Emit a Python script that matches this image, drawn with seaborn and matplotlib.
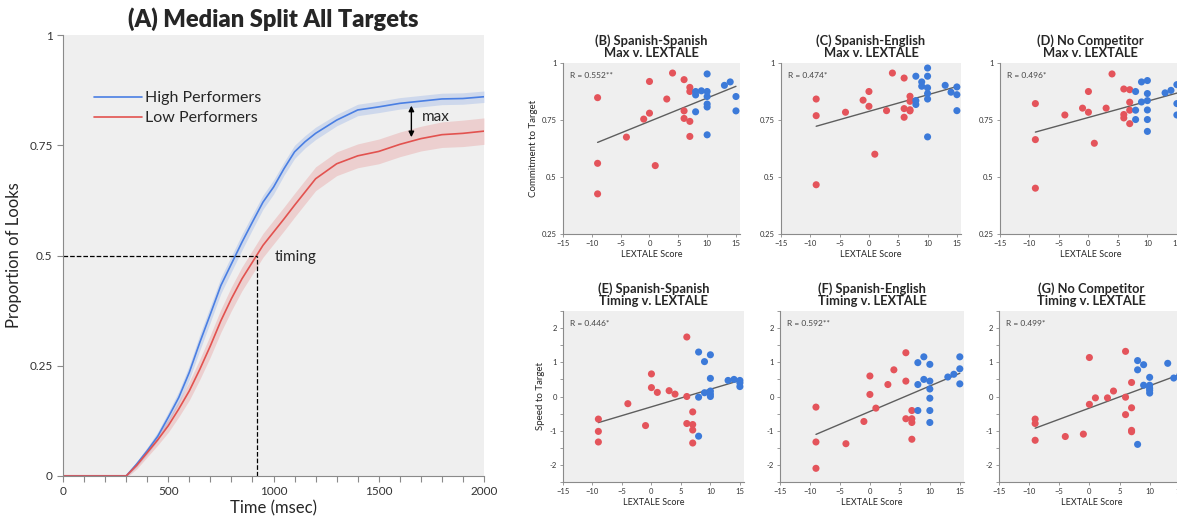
import numpy as np
import pandas as pd
import matplotlib
matplotlib.use("Agg")
import matplotlib.pyplot as plt
from matplotlib.ticker import MultipleLocator
import seaborn as sns

# ---- panel A: time course ----
time_ms = [0, 100, 200, 300, 350, 400, 450, 500, 550, 600, 650, 700, 750, 800, 850, 900,
           950, 1000, 1050, 1100, 1150, 1200, 1300, 1400, 1500, 1600, 1700, 1800, 1900, 2000]
high_prop = [0, 0, 0, 0, 0.027, 0.057, 0.09, 0.133, 0.178, 0.235, 0.303, 0.367, 0.432, 0.481, 0.53, 0.576,
             0.621, 0.655, 0.697, 0.735, 0.758, 0.777, 0.807, 0.83, 0.837, 0.845, 0.85, 0.855, 0.856, 0.86]
low_prop = [0, 0, 0, 0, 0.024, 0.053, 0.082, 0.114, 0.152, 0.193, 0.242, 0.295, 0.352, 0.402, 0.447, 0.485,
            0.523, 0.553, 0.583, 0.614, 0.644, 0.674, 0.708, 0.726, 0.736, 0.752, 0.765, 0.774, 0.777, 0.782]
high_se = [0.003, 0.003, 0.003, 0.003, 0.006, 0.008, 0.01, 0.012, 0.014, 0.016, 0.018, 0.018, 0.018, 0.018, 0.018, 0.017,
           0.016, 0.016, 0.015, 0.015, 0.014, 0.014, 0.013, 0.013, 0.013, 0.013, 0.013, 0.013, 0.013, 0.013]
low_se = [0.004, 0.004, 0.004, 0.004, 0.008, 0.01, 0.012, 0.015, 0.018, 0.021, 0.023, 0.025, 0.026, 0.027, 0.027, 0.027,
          0.027, 0.027, 0.027, 0.027, 0.027, 0.027, 0.027, 0.027, 0.028, 0.028, 0.028, 0.029, 0.03, 0.03]

# ---- scatter panels: LEXTALE score vs. outcome, low (red) / high (blue) performers ----
b_low_x = [-9, -9, -9, -4, -1, 0, 0, 1, 3, 4, 6, 6, 6, 7, 7, 7, 7]
b_low_y = [0.848, 0.56, 0.426, 0.675, 0.754, 0.78, 0.919, 0.55, 0.842, 0.956, 0.927, 0.79, 0.757, 0.893, 0.875, 0.744, 0.678]
b_high_x = [8, 8, 8, 9, 10, 10, 10, 10, 10, 10, 13, 14, 15, 15]
b_high_y = [0.875, 0.86, 0.786, 0.878, 0.952, 0.875, 0.853, 0.82, 0.807, 0.685, 0.902, 0.917, 0.853, 0.79]

c_low_x = [-9, -9, -9, -4, -1, 0, 0, 1, 3, 4, 6, 6, 6, 7, 7, 7, 7]
c_low_y = [0.842, 0.769, 0.466, 0.784, 0.837, 0.875, 0.81, 0.60, 0.791, 0.956, 0.934, 0.80, 0.762, 0.854, 0.832, 0.795, 0.79]
c_high_x = [8, 8, 8, 9, 9, 10, 10, 10, 10, 10, 10, 13, 14, 15, 15, 15]
c_high_y = [0.942, 0.835, 0.818, 0.917, 0.898, 0.978, 0.942, 0.891, 0.866, 0.842, 0.676, 0.902, 0.872, 0.895, 0.861, 0.791]

d_low_x = [-9, -9, -9, -4, -1, 0, 0, 1, 3, 4, 6, 6, 6, 7, 7, 7, 7]
d_low_y = [0.822, 0.664, 0.451, 0.772, 0.802, 0.875, 0.784, 0.648, 0.802, 0.952, 0.886, 0.774, 0.759, 0.883, 0.828, 0.793, 0.734]
d_high_x = [8, 8, 8, 9, 9, 10, 10, 10, 10, 10, 10, 13, 14, 15, 15, 15]
d_high_y = [0.875, 0.793, 0.752, 0.917, 0.829, 0.923, 0.866, 0.835, 0.794, 0.752, 0.70, 0.869, 0.88, 0.905, 0.822, 0.772]

e_low_x = [-9, -9, -9, -4, -1, 0, 0, 1, 3, 4, 6, 6, 6, 7, 7, 7, 7]
e_low_y = [-0.66, -1.02, -1.33, -0.21, -0.85, 0.66, 0.26, 0.12, 0.17, 0.07, 1.74, 0.0, -0.79, -0.45, -0.82, -0.98, -1.36]
e_high_x = [8, 8, 8, 9, 9, 10, 10, 10, 10, 10, 13, 14, 15, 15, 15]
e_high_y = [1.30, -0.02, -1.16, 1.02, 0.11, 1.22, 0.53, 0.16, 0.07, 0.0, 0.47, 0.50, 0.47, 0.40, 0.29]

f_low_x = [-9, -9, -9, -4, -1, 0, 0, 1, 3, 4, 6, 6, 6, 7, 7, 7, 7]
f_low_y = [-0.31, -1.33, -2.10, -1.38, -0.73, 0.60, 0.06, -0.34, 0.35, 0.78, 1.28, 0.45, -0.65, -0.41, -0.65, -0.76, -1.25]
f_high_x = [8, 8, 8, 9, 9, 10, 10, 10, 10, 10, 10, 13, 14, 15, 15, 15]
f_high_y = [0.99, 0.35, -0.41, 1.16, 0.50, 0.94, 0.45, 0.22, -0.05, -0.41, -0.76, 0.57, 0.65, 1.16, 0.81, 0.37]

g_low_x = [-9, -9, -9, -4, -1, 0, 0, 1, 3, 4, 6, 6, 6, 7, 7, 7, 7]
g_low_y = [-0.66, -0.79, -1.28, -1.17, -1.10, 1.14, -0.23, -0.04, -0.04, 0.16, 1.32, -0.02, -0.53, 0.41, -0.33, -0.99, -1.03]
g_high_x = [8, 8, 8, 9, 9, 10, 10, 10, 10, 10, 13, 14, 15]
g_high_y = [1.05, 0.78, -1.40, 0.93, 0.33, 0.56, 0.33, 0.24, 0.18, 0.10, 0.97, 0.54, 0.62]

titles = ["(B) Spanish-Spanish\nMax v. LEXTALE", "(C) Spanish-English\nMax v. LEXTALE",
          "(D) No Competitor\nMax v. LEXTALE", "(E) Spanish-Spanish\nTiming v. LEXTALE",
          "(F) Spanish-English\nTiming v. LEXTALE", "(G) No Competitor\nTiming v. LEXTALE"]
r_labels = ["R = 0.552**", "R = 0.474*", "R = 0.496*", "R = 0.446*", "R = 0.592**", "R = 0.499*"]

RED = "#e4545b"
BLUE = "#3c7ad9"
LINE_RED = "#e2524f"
LINE_BLUE = "#4a7fe3"

sns.set_style("ticks", {"axes.facecolor": "#efefef", "axes.edgecolor": "#8a8a8a"})
plt.rcParams["font.family"] = ["Lato", "DejaVu Sans"]
plt.rcParams["xtick.color"] = "#8a8a8a"
plt.rcParams["ytick.color"] = "#8a8a8a"
plt.rcParams["xtick.labelcolor"] = "#333333"
plt.rcParams["ytick.labelcolor"] = "#333333"

W, H = 1177, 525
fig = plt.figure(figsize=(W / 100, H / 100), dpi=100)


def box(left, top, right, bottom):
    return fig.add_axes([left / W, (H - bottom) / H, (right - left) / W, (bottom - top) / H])


def fmt(v, pos=None):
    return f"{v:g}"


# ---------------- panel A ----------------
ax = box(63, 35, 484, 476)
curves = pd.DataFrame({
    "time": time_ms * 2,
    "prop": high_prop + low_prop,
    "group": ["High Performers"] * len(time_ms) + ["Low Performers"] * len(time_ms),
})
ax.fill_between(time_ms, np.array(high_prop) - high_se, np.array(high_prop) + high_se,
                color=LINE_BLUE, alpha=0.2, lw=0)
ax.fill_between(time_ms, np.array(low_prop) - low_se, np.array(low_prop) + low_se,
                color=LINE_RED, alpha=0.2, lw=0)
sns.lineplot(data=curves, x="time", y="prop", hue="group",
             palette={"High Performers": LINE_BLUE, "Low Performers": LINE_RED},
             lw=1.2, ax=ax)
ax.set_xlim(0, 2000)
ax.set_ylim(0, 1)
ax.xaxis.set_major_locator(MultipleLocator(500))
ax.xaxis.set_minor_locator(MultipleLocator(100))
ax.yaxis.set_major_locator(MultipleLocator(0.25))
ax.yaxis.set_major_formatter(fmt)
ax.tick_params(which="both", length=4, width=0.8, labelsize=8.5)
ax.set_xlabel("Time (msec)", fontsize=12, labelpad=2)
ax.set_ylabel("Proportion of Looks", fontsize=12, labelpad=5)
ax.set_title("(A) Median Split All Targets", fontsize=17, fontweight="heavy", pad=6)
leg = ax.legend(loc="upper left", bbox_to_anchor=(0.04, 0.905), frameon=False, fontsize=11.5,
                handlelength=3.0, handletextpad=0.2, labelspacing=0.35)
for line in leg.get_lines():
    line.set_linewidth(1.2)
# timing guide and max arrow
ax.plot([0, 920], [0.5, 0.5], ls="--", color="black", lw=0.9)
ax.plot([920, 920], [0, 0.5], ls="--", color="black", lw=0.9)
ax.text(1005, 0.496, "timing", fontsize=11, va="center")
ax.annotate("", xy=(1655, 0.762), xytext=(1655, 0.846),
            arrowprops=dict(arrowstyle="<|-|>", color="black", lw=1, mutation_scale=8))
ax.text(1705, 0.813, "max", fontsize=11, va="center")
sns.despine(ax=ax)

# ---------------- scatter panels ----------------
panels = [
    (b_low_x, b_low_y, b_high_x, b_high_y, (563, 63, 740, 234)),
    (c_low_x, c_low_y, c_high_x, c_high_y, (781, 63, 961, 234)),
    (d_low_x, d_low_y, d_high_x, d_high_y, (1000, 63, 1181, 234)),
    (e_low_x, e_low_y, e_high_x, e_high_y, (563, 311, 744, 482)),
    (f_low_x, f_low_y, f_high_x, f_high_y, (780, 311, 964, 482)),
    (g_low_x, g_low_y, g_high_x, g_high_y, (999, 311, 1184, 482)),
]

for i, (lx, ly, hx, hy, pos) in enumerate(panels):
    a = box(*pos)
    df = pd.DataFrame({
        "score": lx + hx,
        "value": ly + hy,
        "group": ["low"] * len(lx) + ["high"] * len(hx),
    })
    sns.regplot(data=df, x="score", y="value", scatter=False, ci=None, ax=a,
                color="#5e5e5e", line_kws={"lw": 1})
    sns.scatterplot(data=df, x="score", y="value", hue="group",
                    palette={"low": RED, "high": BLUE}, s=26, linewidth=0,
                    legend=False, ax=a, zorder=3)
    a.set_xlim(-15, 15.7)
    a.xaxis.set_major_locator(MultipleLocator(5))
    if i < 3:
        a.set_ylim(0.25, 1)
        a.yaxis.set_major_locator(MultipleLocator(0.25))
    else:
        a.set_ylim(-2.5, 2.5)
        a.yaxis.set_major_locator(MultipleLocator(1))
        a.yaxis.set_minor_locator(MultipleLocator(0.5))
    a.set_xlabel("LEXTALE Score", fontsize=6.5, labelpad=2)
    a.yaxis.set_major_formatter(fmt)
    a.tick_params(which="both", length=2.5, width=0.6, labelsize=5.5, pad=2)
    a.set_ylabel("")
    a.set_title(titles[i], fontsize=9.3, fontweight="bold", pad=4, linespacing=1.05)
    a.text(0.04, 0.95, r_labels[i], transform=a.transAxes, fontsize=6, color="#444444",
           va="top", ha="left")
    sns.despine(ax=a)
    if i == 0:
        a.set_ylabel("Commitment to Target", fontsize=7, labelpad=3)
    if i == 3:
        a.set_ylabel("Speed to Target", fontsize=7, labelpad=3)

fig.savefig("out.png", dpi=100)
